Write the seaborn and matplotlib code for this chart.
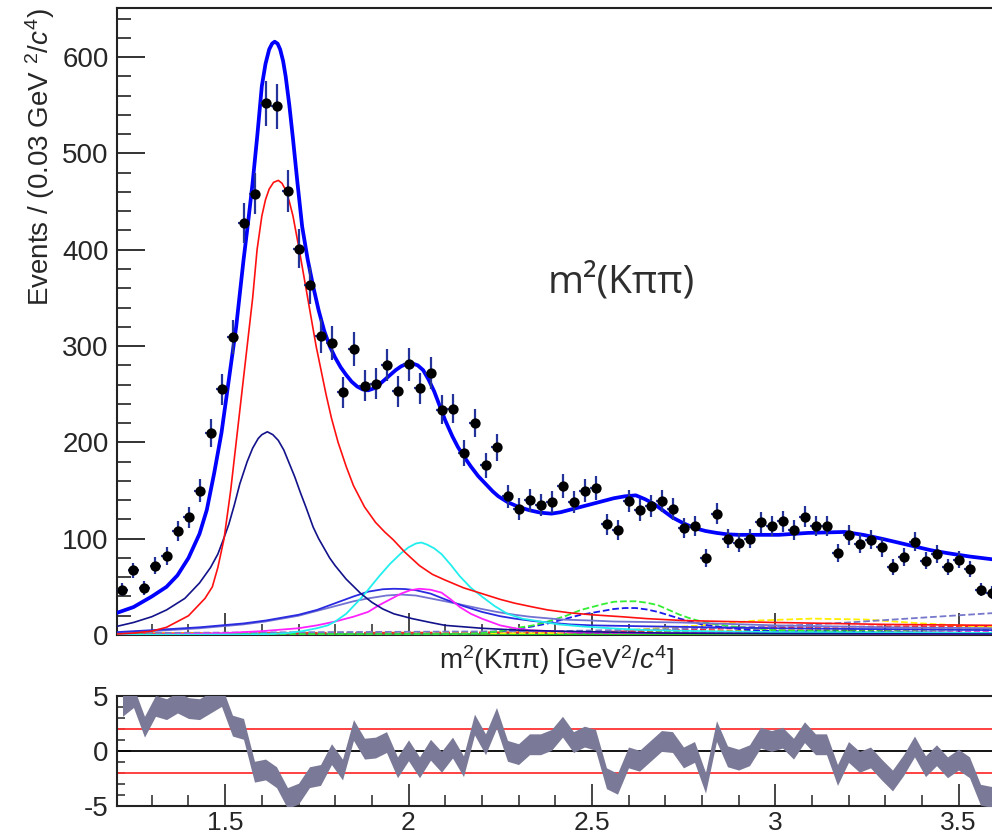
import numpy as np
import pandas as pd
import matplotlib
matplotlib.use("Agg")
import matplotlib.pyplot as plt
import seaborn as sns
from matplotlib.ticker import MultipleLocator

# ---------------- data ----------------
bin_start = 1.205
bin_width = 0.03
counts = [47, 67, 49, 72, 82, 108, 122, 150, 210, 255,
          309, 428, 458, 552, 549, 461, 401, 363, 310, 303,
          252, 297, 259, 261, 280, 253, 281, 256, 272, 234,
          235, 189, 220, 176, 195, 144, 131, 140, 135, 138,
          155, 138, 150, 153, 115, 109, 139, 130, 134, 139,
          131, 111, 113, 80, 126, 100, 96, 100, 117, 113,
          118, 109, 123, 113, 113, 85, 104, 95, 99, 91,
          71, 81, 97, 77, 84, 71, 78, 69, 47, 44]

pulls = [4.1, 4.9, 2.2, 4.1, 3.8, 4.4, 3.9, 3.8, 4.4, 5.0,
         2.3, 2.0, -1.9, -1.7, -2.4, -4.3, -3.9, -2.4, -2.2, -0.3,
         -1.7, 1.9, 0.2, 0.3, 0.8, -1.5, 0.05, -1.5, 0.1, -1.0,
         0.3, -1.4, 2.4, 0.6, 3.0, 0.0, -0.3, 0.6, 0.6, 1.0,
         2.2, 0.8, 1.3, 1.0, -2.5, -3.0, -0.6, -0.9, 0.0, 0.9,
         0.8, -0.6, -0.1, -2.9, 1.8, -0.5, -0.8, -0.4, 1.2, 0.9,
         1.2, 0.2, 1.7, 0.6, 0.6, -2.2, -0.1, -1.0, -0.6, -1.7,
         -2.7, -1.3, 0.4, -1.4, -0.4, -1.5, -0.8, -1.5, -4.0, -4.2]

total_x = [1.205, 1.25, 1.30, 1.34, 1.37, 1.40, 1.43, 1.45, 1.47, 1.49, 1.51, 1.53,
           1.55, 1.563, 1.575, 1.588, 1.60, 1.61, 1.62, 1.628, 1.635, 1.643, 1.65,
           1.658, 1.665, 1.675, 1.685, 1.697, 1.71, 1.725, 1.74, 1.755, 1.77, 1.785,
           1.80, 1.815, 1.83, 1.845, 1.86, 1.875, 1.89, 1.905, 1.92, 1.935, 1.95,
           1.965, 1.98, 1.995, 2.01, 2.025, 2.04, 2.055, 2.07, 2.085, 2.10, 2.12,
           2.135, 2.15, 2.17, 2.19, 2.21, 2.23, 2.245, 2.27, 2.30, 2.33, 2.36, 2.39,
           2.415, 2.44, 2.47, 2.50, 2.53, 2.56, 2.59, 2.62, 2.645, 2.67, 2.695, 2.72,
           2.75, 2.78, 2.81, 2.84, 2.87, 2.90, 2.95, 3.01, 3.05, 3.09, 3.14, 3.19,
           3.24, 3.29, 3.335, 3.38, 3.425, 3.47, 3.53, 3.605]
total_y = [23, 29, 40, 50, 62, 80, 105, 130, 168, 210, 265, 320,
           389, 430, 470, 520, 570, 593, 608, 614, 616, 614, 608,
           596, 580, 550, 515, 470, 424, 390, 362, 337, 316, 300,
           288, 278, 270, 263, 258, 255, 254, 256, 260, 265, 270,
           275, 279, 281.5, 282, 280, 275, 265, 253, 238, 223, 206,
           195, 186, 175, 165, 157, 149, 144, 138, 133, 129.5, 127, 126,
           127.5, 130, 133, 136, 139, 142, 144, 145, 141, 136, 129, 122,
           116, 111, 108, 106, 104.5, 104, 104, 104, 105, 106, 106.5, 107,
           104, 100, 96, 92, 88, 85, 81.5, 78]

red_x = [1.205, 1.25, 1.30, 1.34, 1.37, 1.40, 1.42, 1.445, 1.465, 1.48, 1.497,
         1.515, 1.53, 1.545, 1.56, 1.575, 1.587, 1.60, 1.61, 1.62, 1.632, 1.645,
         1.655, 1.665, 1.675, 1.685, 1.702, 1.725, 1.748, 1.775, 1.79, 1.808,
         1.83, 1.85, 1.88, 1.91, 1.935, 1.958, 1.99, 2.03, 2.065, 2.10, 2.15,
         2.20, 2.25, 2.29, 2.34, 2.38, 2.44, 2.50, 2.58, 2.65, 2.75, 2.87, 3.0,
         3.15, 3.3, 3.45, 3.605]
red_y = [1, 2, 4, 8, 14, 20, 28, 38, 50, 70, 100,
         150, 200, 250, 300, 350, 400, 435, 452, 463, 470, 472,
         469, 462, 450, 435, 400, 350, 300, 250, 225, 200,
         175, 155, 133, 117, 107, 99, 86, 72, 63, 57, 49,
         43, 37, 33, 29, 26, 23, 21, 19, 17, 15, 14, 13,
         12, 11, 10.5, 10]

navy_x = [1.205, 1.25, 1.30, 1.34, 1.39, 1.43, 1.46, 1.48, 1.495, 1.51, 1.525,
          1.54, 1.56, 1.575, 1.59, 1.60, 1.615, 1.63, 1.645, 1.66, 1.675, 1.69,
          1.705, 1.72, 1.74, 1.755, 1.77, 1.785, 1.80, 1.83, 1.87, 1.90, 1.93,
          1.96, 2.01, 2.06, 2.10, 2.2, 2.3, 2.4, 2.55, 2.7, 3.0, 3.605]
navy_y = [9, 13, 19, 26, 38, 54, 70, 84, 99, 115, 135,
          157, 180, 194, 204, 208, 211, 208, 202, 192, 178, 164,
          148, 133, 112, 100, 90, 80, 72, 58, 43, 34, 27,
          22, 17, 13, 10, 7, 5, 4, 3, 2, 1.5, 1]

cyan_x = [1.205, 1.55, 1.62, 1.67, 1.71, 1.75, 1.78, 1.80, 1.83, 1.85, 1.87, 1.89,
          1.92, 1.95, 1.98, 2.00, 2.02, 2.035, 2.05, 2.07, 2.09, 2.115, 2.14, 2.17,
          2.20, 2.235, 2.27, 2.31, 2.36, 2.41, 2.47, 2.55, 2.65, 2.8, 3.0, 3.605]
cyan_y = [0, 0.5, 1, 2, 4, 7, 10, 14, 22, 30, 38, 47,
          61, 74, 85, 91, 95, 96, 94, 90, 84, 73, 61, 49,
          40, 30, 22, 17, 14, 11, 9, 7, 5, 4, 3, 2]

magenta_x = [1.205, 1.40, 1.50, 1.60, 1.70, 1.75, 1.80, 1.85, 1.89, 1.92, 1.95,
             1.98, 2.005, 2.03, 2.06, 2.09, 2.115, 2.14, 2.17, 2.20, 2.25, 2.29,
             2.33, 2.45, 2.70, 3.605]
magenta_y = [0, 1, 2, 4, 7, 10, 14, 19, 24, 31, 37,
             43, 46.5, 48, 47, 44, 37, 29, 22, 17, 10, 7,
             5, 3, 2, 1]

blue_x = [1.205, 1.30, 1.43, 1.55, 1.61, 1.70, 1.75, 1.80, 1.85, 1.89, 1.93, 1.96,
          1.99, 2.02, 2.06, 2.10, 2.15, 2.20, 2.25, 2.29, 2.34, 2.38, 2.44, 2.50,
          2.65, 3.0, 3.605]
blue_y = [3, 5, 8, 12, 15, 21, 26, 33, 40, 45, 47.5, 48,
          47.7, 46.5, 43, 37, 30, 24, 19.5, 17, 14.5, 13, 11, 10,
          9, 7, 5]

slate_x = [1.205, 1.30, 1.43, 1.55, 1.61, 1.70, 1.75, 1.80, 1.85, 1.89, 1.94, 1.98,
           2.02, 2.06, 2.10, 2.15, 2.20, 2.24, 2.29, 2.33, 2.42, 2.50, 2.56, 2.74,
           3.0, 3.3, 3.605]
slate_y = [2, 4, 7, 11, 14, 20, 25, 30, 35, 38, 41, 42,
           41, 38, 35, 31, 27, 24, 21, 19, 16, 15, 14, 13,
           10, 8, 7]

green_dash_x = [1.205, 2.15, 2.20, 2.25, 2.29, 2.34, 2.38, 2.43, 2.47, 2.50, 2.53,
                2.56, 2.59, 2.62, 2.65, 2.68, 2.71, 2.74, 2.77, 2.80, 2.84, 2.88,
                2.94, 3.0, 3.1, 3.2, 3.605]
green_dash_y = [1, 1, 2, 4, 7, 10, 14, 20, 26, 29, 32,
                34.5, 35, 35, 33.5, 31, 26, 21, 17, 14, 11, 9,
                7, 5, 4, 3, 2]

blue_dash_x = [1.205, 2.15, 2.20, 2.25, 2.29, 2.34, 2.38, 2.43, 2.47, 2.50, 2.53,
               2.56, 2.59, 2.62, 2.65, 2.68, 2.71, 2.74, 2.77, 2.80, 2.84, 2.88,
               2.94, 3.0, 3.3, 3.605]
blue_dash_y = [1, 1, 2, 4, 6, 9, 12, 17, 21, 23, 25,
               27, 28, 28, 26.5, 24, 20.5, 17, 14, 11, 9, 7,
               5, 4, 3, 2]

yellow_dash_x = [1.205, 2.40, 2.60, 2.80, 2.95, 3.10, 3.25, 3.40, 3.605]
yellow_dash_y = [1, 2, 5, 10, 15, 17, 16, 12, 8]

grey_dash_x = [1.205, 2.40, 2.70, 3.00, 3.20, 3.40, 3.605]
grey_dash_y = [2, 4, 6, 9, 13, 18, 23]

red_dash_x = [1.205, 2.50, 2.80, 3.00, 3.30, 3.605]
red_dash_y = [1, 3, 6, 8, 9, 9]

dgreen_dash_x = [1.205, 2.80, 3.20, 3.605]
dgreen_dash_y = [1, 3, 5, 6]

orange_dash_x = [1.205, 2.60, 3.00, 3.605]
orange_dash_y = [2, 3, 5, 6]

violet_dash_x = [1.205, 2.50, 3.605]
violet_dash_y = [1, 2, 3]

green_line_x = [1.205, 3.605]
green_line_y = [1, 1]

x_ticks = [1.5, 2, 2.5, 3, 3.5]
x_tick_labels = ["1.5", "2", "2.5", "3", "3.5"]

# ---------------- style ----------------
sns.set_theme(style="ticks")
plt.rcParams['font.family'] = ['Liberation Sans', 'DejaVu Sans']
plt.rcParams['mathtext.fontset'] = 'custom'
plt.rcParams['mathtext.rm'] = 'Liberation Sans'
plt.rcParams['mathtext.it'] = 'Liberation Sans:italic'

W, H = 992, 839
fig = plt.figure(figsize=(W / 100, H / 100), dpi=100)

def fx(px):
    return px / W

def fy(py):
    return 1 - py / H

ax = fig.add_axes([fx(117), fy(635), fx(997) - fx(117), fy(8) - fy(635)])
axr = fig.add_axes([fx(117), fy(805.7), fx(997) - fx(117), fy(696) - fy(805.7)])

bins = bin_start + bin_width * (np.arange(len(counts)) + 0.5)
cnt = np.array(counts, dtype=float)
err = np.sqrt(cnt)

def curve(xs, ys, color, lw, ls='-', z=3):
    df = pd.DataFrame({'x': xs, 'y': ys})
    sns.lineplot(data=df, x='x', y='y', ax=ax, color=color, linewidth=lw,
                 linestyle=ls, estimator=None, sort=False, zorder=z)

# background small dashed components
curve(green_line_x, green_line_y, '#22cc22', 2.0)
curve(violet_dash_x, violet_dash_y, '#cc00cc', 1.2, '--')
curve(orange_dash_x, orange_dash_y, '#ff9900', 1.2, '--')
curve(dgreen_dash_x, dgreen_dash_y, '#33aa33', 1.2, '--')
curve(red_dash_x, red_dash_y, '#ff2222', 1.2, '--')
curve(yellow_dash_x, yellow_dash_y, '#ffee00', 1.3, '--')
curve(grey_dash_x, grey_dash_y, '#7777cc', 1.3, '--')
curve(blue_dash_x, blue_dash_y, '#1a1aee', 1.3, '--')
curve(green_dash_x, green_dash_y, '#33ee33', 1.3, '--')
# main components
curve(slate_x, slate_y, '#7272d2', 1.3)
curve(blue_x, blue_y, '#2a2ae0', 1.3)
curve(magenta_x, magenta_y, '#ff22ff', 1.3)
curve(cyan_x, cyan_y, '#22eeee', 1.3)
curve(navy_x, navy_y, '#12128a', 1.2)
curve(red_x, red_y, '#ff1010', 1.2)
curve(total_x, total_y, '#0000ff', 2.7, z=5)

ax.errorbar(bins, cnt, yerr=err, xerr=bin_width / 2, fmt='none',
            ecolor='#23339a', elinewidth=1.6, capsize=0, zorder=6)
sns.scatterplot(x=bins, y=cnt, ax=ax, color='black', s=55, edgecolor='black',
                linewidth=0, zorder=7)

ax.set_xlim(1.205, 3.605)
ax.set_ylim(0, 651)
ax.set_xlabel('')
ax.set_ylabel('')
ax.yaxis.set_major_locator(MultipleLocator(100))
ax.yaxis.set_minor_locator(MultipleLocator(20))
ax.set_xticks(x_ticks)
ax.xaxis.set_minor_locator(MultipleLocator(0.1))
ax.tick_params(axis='y', which='major', direction='in', length=20, width=1.3,
               labelsize=20, pad=6, color='#222222')
ax.tick_params(axis='y', which='minor', direction='in', length=10, width=1.2,
               color='#222222')
ax.tick_params(axis='x', which='major', direction='in', length=16, width=1.2,
               labelbottom=False)
ax.tick_params(axis='x', which='minor', direction='in', length=8, width=1.1)
for s in ax.spines.values():
    s.set_linewidth(1.5)
    s.set_color('#222222')

# residual panel
axr.fill_between(bins, np.array(pulls) - 0.95, np.array(pulls) + 0.95,
                 color='#7a7a98', linewidth=0, zorder=3)
axr.axhline(0, color='black', linewidth=1.3, zorder=2)
axr.axhline(2, color='#ff3333', linewidth=1.3, zorder=2)
axr.axhline(-2, color='#ff3333', linewidth=1.3, zorder=2)
axr.set_xlim(1.205, 3.605)
axr.set_ylim(-5, 5)
axr.set_yticks([-5, 0, 5])
axr.set_yticklabels(['-5', '0', '5'])
axr.yaxis.set_minor_locator(MultipleLocator(1))
axr.set_xticks(x_ticks)
axr.set_xticklabels(x_tick_labels)
axr.xaxis.set_minor_locator(MultipleLocator(0.1))
axr.tick_params(axis='y', which='major', direction='in', length=10, width=1.2,
                labelsize=20, pad=6)
axr.tick_params(axis='y', which='minor', direction='in', length=6, width=1.1)
axr.tick_params(axis='x', which='major', direction='in', length=16, width=1.2,
                labelsize=19, pad=3.5)
axr.tick_params(axis='x', which='minor', direction='in', length=8, width=1.1)
for s in axr.spines.values():
    s.set_linewidth(1.5)
    s.set_color('#222222')

# titles / labels
fig.text(fx(557), fy(660), r'm$^{2}$(Kππ) [GeV$^{2}$/$c^{4}$]', fontsize=20,
         ha='center', va='center')
fig.text(fx(40), fy(8), r'Events / (0.03 GeV $^{2}$/$c^{4}$)', fontsize=20,
         rotation=90, ha='center', va='top')
fig.text(fx(621), fy(282), 'm²(Kππ)', fontsize=28, ha='center', va='center',
         family=['Open Sans', 'DejaVu Sans'], color='#2e2e2e')

fig.savefig('out.png', dpi=100)
